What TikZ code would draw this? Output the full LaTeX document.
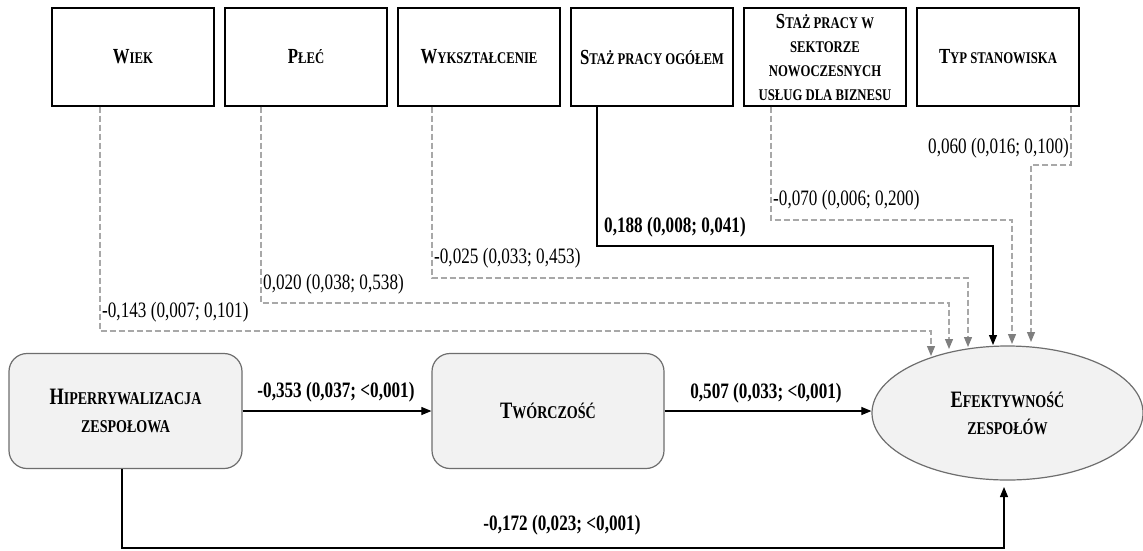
\documentclass[tikz,border=0pt]{standalone}
\usepackage{fontspec}
\setmainfont{Liberation Serif}[FakeStretch=0.78]
\usetikzlibrary{arrows.meta,shapes.geometric}

\definecolor{boxfill}{HTML}{F2F2F2}
\definecolor{boxline}{HTML}{6E6E6E}
\definecolor{dashline}{HTML}{A8A8A8}
\definecolor{dashtip}{HTML}{7F7F7F}

% synthetic small capitals: the rest of a word in a smaller size
\newcommand{\smcp}[1]{{\fontsize{16.3pt}{20pt}\selectfont #1}}
\newcommand{\smcpb}[1]{{\fontsize{18pt}{22pt}\selectfont #1}}

\tikzset{
  topbox/.style={draw=black, line width=1.4pt, fill=white,
    minimum width=162pt, minimum height=98pt, inner sep=0pt,
    align=center, font=\bfseries\fontsize{21.5pt}{24pt}\selectfont},
  varbox/.style={draw=boxline, line width=1.2pt, fill=boxfill,
    rounded corners=18pt, minimum width=233pt, minimum height=115pt,
    inner sep=0pt, align=center,
    font=\bfseries\fontsize{23.5pt}{28pt}\selectfont},
  outcome/.style={ellipse, draw=boxline, line width=1.2pt, fill=boxfill,
    minimum width=271pt, minimum height=134pt, inner sep=0pt,
    align=center, font=\bfseries\fontsize{23.5pt}{27pt}\selectfont},
  lab/.style={inner sep=0pt, font=\fontsize{22pt}{24pt}\selectfont},
  labb/.style={inner sep=0pt, font=\bfseries\fontsize{22pt}{24pt}\selectfont},
  dcon/.style={draw=dashline, line width=1.1pt, dash pattern=on 6pt off 3pt,
    -{Triangle[length=10pt,width=8pt,color=dashtip]}},
  scon/.style={draw=black, line width=1.1pt,
    -{Triangle[length=10pt,width=8pt]}},
}

\begin{document}
\begin{tikzpicture}[x=1pt,y=-1pt]
\path[use as bounding box, fill=white] (0,0) rectangle (1143,550);

% control variables
\node[topbox] (wiek)  at (133,57) {W\smcp{IEK}};
\node[topbox] (plec)  at (306,57) {P\smcp{ŁEĆ}};
\node[topbox] (wyk)   at (479,57) {W\smcp{YKSZTAŁCENIE}};
\node[topbox] (stog)  at (652,57) {S\smcp{TAŻ PRACY OGÓŁEM}};
\node[topbox] (stsek) at (825,57) {S\smcp{TAŻ PRACY W}\\\smcp{SEKTORZE}\\\smcp{NOWOCZESNYCH}\\\smcp{USŁUG DLA BIZNESU}};
\node[topbox] (typ)   at (998,57) {T\smcp{YP STANOWISKA}};

% main model
\node[varbox] (hiper) at (125.5,411) {H\smcpb{IPERRYWALIZACJA}\\\smcpb{ZESPOŁOWA}};
\node[varbox, minimum width=232pt] (twor) at (548,411) {T\smcpb{WÓRCZOŚĆ}};
\node[outcome] (efek) at (1007.5,413) {E\smcpb{FEKTYWNOŚĆ}\\\smcpb{ZESPOŁÓW}};

% arrow ends on the top of the ellipse
\coordinate (t1) at (931,356);
\coordinate (t2) at (949,349);
\coordinate (t3) at (968,347);
\coordinate (t4) at (993,345);
\coordinate (t5) at (1012,344);
\coordinate (t6) at (1031,342);
\coordinate (tb) at (1004,487);

% paths from the control variables
\draw[dcon] ([xshift=-33pt]wiek.south) |- (t1 |- 0,331) -- (t1);
\draw[dcon] ([xshift=-45pt]plec.south) |- (t2 |- 0,303) -- (t2);
\draw[dcon] ([xshift=-47pt]wyk.south)  |- (t3 |- 0,278) -- (t3);
\draw[scon] ([xshift=-55pt]stog.south) |- (t4 |- 0,246) -- (t4);
\draw[dcon] ([xshift=-54pt]stsek.south) |- (t5 |- 0,220) -- (t5);
\draw[dcon] ([xshift=73pt]typ.south) |- (t6 |- 0,165) -- (t6);

% main paths
\draw[scon] (hiper) -- (twor);
\draw[scon] (twor.east) -- (twor.east -| efek.west);
\draw[scon] ([xshift=-3.5pt]hiper.south) |- (tb |- 0,548) -- (tb);

% coefficients
\node[lab, anchor=west]  (c1) at (102,312) {-0,143 (0,007; 0,101)};
\node[lab, anchor=west]  (c2) at (263,284) {0,020 (0,038; 0,538)};
\node[lab, anchor=west]  (c3) at (434,258) {-0,025 (0,033; 0,453)};
\node[labb, anchor=west] (c4) at (604,227) {0,188 (0,008; 0,041)};
\node[lab, anchor=west]  (c5) at (773,200) {-0,070 (0,006; 0,200)};
\node[lab, anchor=east]  (c6) at (1069,148) {0,060 (0,016; 0,100)};
\node[labb] (c7) at (336,392) {-0,353 (0,037; <0,001)};
\node[labb] (c8) at (766,393) {0,507 (0,033; <0,001)};
\node[labb] (c9) at (562,525) {-0,172 (0,023; <0,001)};
\end{tikzpicture}
\end{document}
